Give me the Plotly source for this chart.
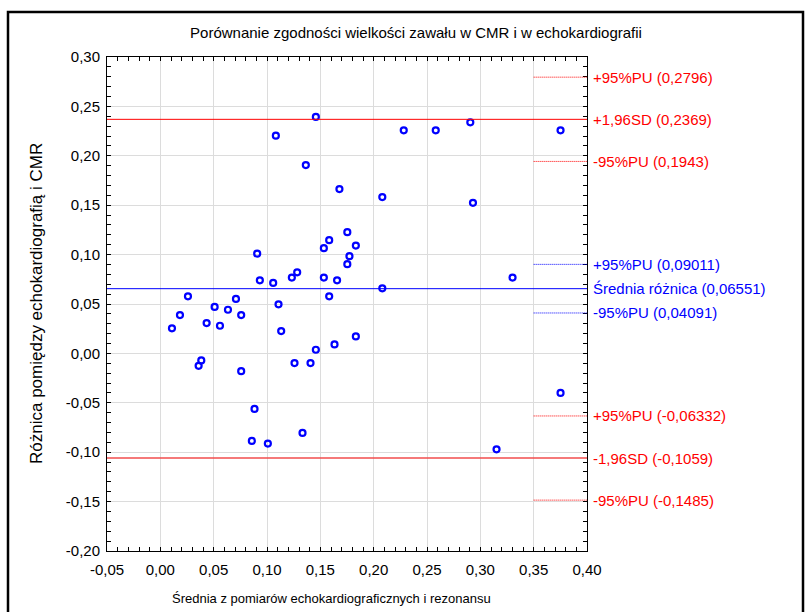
import plotly.graph_objects as go

# Mean of the two measurements (x) and their difference (y) for each patient
srednia = [0.0109, 0.0184, 0.0259, 0.0359, 0.0384, 0.0434, 0.0509, 0.0559, 0.0634, 0.0709,
           0.0758, 0.0758, 0.0858, 0.0883, 0.0908, 0.0933, 0.1008, 0.1058, 0.1083, 0.1108,
           0.1133, 0.1233, 0.1258, 0.1283, 0.1333, 0.1364, 0.1408, 0.1458, 0.1458, 0.1533,
           0.1533, 0.1583, 0.1583, 0.1633, 0.1657, 0.1679, 0.1753, 0.1773, 0.1753, 0.1833,
           0.1833, 0.2081, 0.2081, 0.2282, 0.2582, 0.2906, 0.2931, 0.3152, 0.3302, 0.3752,
           0.3752]
roznica = [0.0254, 0.0388, 0.0578, -0.0126, -0.0071, 0.0307, 0.0470, 0.0280, 0.0442, 0.0551,
           0.0388, -0.0180, -0.0886, -0.0562, 0.1010, 0.0740, -0.0913, 0.0713, 0.2204, 0.0497,
           0.0226, 0.0767, -0.0098, 0.0821, -0.0805, 0.1906, -0.0098, 0.2393, 0.0037, 0.1065,
           0.0767, 0.1146, 0.0578, 0.0091, 0.0740, 0.1663, 0.1227, 0.0984, 0.0903, 0.1091,
           0.0172, 0.1582, 0.0659, 0.2258, 0.2258, 0.2339, 0.1524, -0.0971, 0.0767, 0.2258,
           -0.0400]

# Bland-Altman statistics
srednia_roznica = 0.06551
gorna_granica = 0.2369
dolna_granica = -0.1059
pu_srednia = [0.09011, 0.04091]
pu_gorna = [0.2796, 0.1943]
pu_dolna = [-0.06332, -0.1485]

# Axis ticks
x_ticks = [-0.05, 0.00, 0.05, 0.10, 0.15, 0.20, 0.25, 0.30, 0.35, 0.40]
y_ticks = [-0.20, -0.15, -0.10, -0.05, 0.00, 0.05, 0.10, 0.15, 0.20, 0.25, 0.30]


def pl(v, nd=2):
    return f"{v:.{nd}f}".replace(".", ",")


def pl_raw(v):
    return str(v).replace(".", ",")


RED = "#ff0000"
BLUE = "#0000ff"
FONT = "Liberation Sans, Arial, sans-serif"

W, H = 811, 612
L, R, T, B = 107, 224, 57, 61

fig = go.Figure()
fig.add_trace(go.Scatter(
    x=srednia, y=roznica, mode="markers",
    marker=dict(symbol="circle-open", size=6, color=BLUE, line=dict(width=2.2, color=BLUE)),
    showlegend=False, hoverinfo="x+y",
))

shapes = []
# full-width reference lines
for val, col, wd in [(gorna_granica, RED, 1), (srednia_roznica, BLUE, 1), (dolna_granica, "#f24c4c", 1.6)]:
    shapes.append(dict(type="line", xref="paper", x0=0, x1=1, yref="y", y0=val, y1=val,
                       line=dict(color=col, width=wd), layer="above"))
# short dotted confidence-interval markers at the right edge
for vals, col in [(pu_gorna, RED), (pu_srednia, BLUE), (pu_dolna, RED)]:
    for v in vals:
        shapes.append(dict(type="line", xref="x", x0=0.35, x1=0.40, yref="y", y0=v, y1=v,
                           line=dict(color=col, width=1, dash="1px,1px"), layer="above"))

# outer frame around the whole chart
pw, ph = W - L - R, H - T - B
fx0, fx1 = 8, 803
fy0, fy1 = 12, 616
shapes.append(dict(type="rect", xref="paper", yref="paper",
                   x0=(fx0 - L) / pw, x1=(fx1 - L) / pw,
                   y0=(H - B - fy1) / ph, y1=(H - B - fy0) / ph,
                   line=dict(color="black", width=2.5), fillcolor="rgba(0,0,0,0)"))

labels = [
    (pu_gorna[0], f"+95%PU ({pl_raw(pu_gorna[0])})", RED),
    (gorna_granica, f"+1,96SD ({pl_raw(gorna_granica)})", RED),
    (pu_gorna[1], f"-95%PU ({pl_raw(pu_gorna[1])})", RED),
    (pu_srednia[0], f"+95%PU ({pl_raw(pu_srednia[0])})", BLUE),
    (srednia_roznica, f"Średnia różnica ({pl_raw(srednia_roznica)})", BLUE),
    (pu_srednia[1], f"-95%PU ({pl_raw(pu_srednia[1])})", BLUE),
    (pu_dolna[0], f"+95%PU ({pl_raw(pu_dolna[0])})", RED),
    (dolna_granica, f"-1,96SD ({pl_raw(dolna_granica)})", RED),
    (pu_dolna[1], f"-95%PU ({pl_raw(pu_dolna[1])})", RED),
]
annotations = []
for v, txt, col in labels:
    annotations.append(dict(x=1, xref="paper", xanchor="left", xshift=4, y=v, yref="y",
                            yanchor="middle", text=txt, showarrow=False,
                            font=dict(family=FONT, size=15, color=col)))

# axis titles
annotations.append(dict(x=(331 - L) / pw, xref="paper", xanchor="center", y=-(598 - (H - B)) / ph,
                        yref="paper", yanchor="middle",
                        text="Średnia z pomiarów echokardiograficznych i rezonansu",
                        showarrow=False, font=dict(family=FONT, size=13, color="black")))
annotations.append(dict(x=-(L - 36) / pw, xref="paper", xanchor="center", y=0.5, yref="paper",
                        yanchor="middle", textangle=-90, text="Różnica pomiędzy echokardiografią i CMR",
                        showarrow=False, font=dict(family=FONT, size=17, color="black")))

axis_common = dict(
    showline=True, linecolor="black", linewidth=1, mirror="ticks",
    ticks="inside", ticklen=4, tickcolor="black", tickwidth=1,
    showgrid=True, gridcolor="#dcdcdc", gridwidth=1, zeroline=False,
    tickfont=dict(family=FONT, size=15, color="black"),
    minor=dict(ticks="inside", ticklen=4, tickcolor="black", dtick=0.01, showgrid=False),
)

fig.update_layout(
    width=W, height=H, autosize=False,
    margin=dict(l=L, r=R, t=T, b=B),
    paper_bgcolor="white", plot_bgcolor="white",
    title=dict(text="Porównanie zgodności wielkości zawału w CMR i w echokardiografii",
               x=416 / W, xref="container", xanchor="center",
               y=1 - 33 / H, yref="container", yanchor="middle",
               font=dict(family=FONT, size=15, color="black")),
    xaxis=dict(range=[-0.05, 0.40], tickvals=x_ticks, ticktext=[pl(v) for v in x_ticks],
               ticklabelstandoff=5, **axis_common),
    yaxis=dict(range=[-0.20, 0.30], tickvals=y_ticks, ticktext=[pl(v) for v in y_ticks],
               ticklabelstandoff=3, **axis_common),
    shapes=shapes, annotations=annotations,
)

fig.write_html("out.html")
